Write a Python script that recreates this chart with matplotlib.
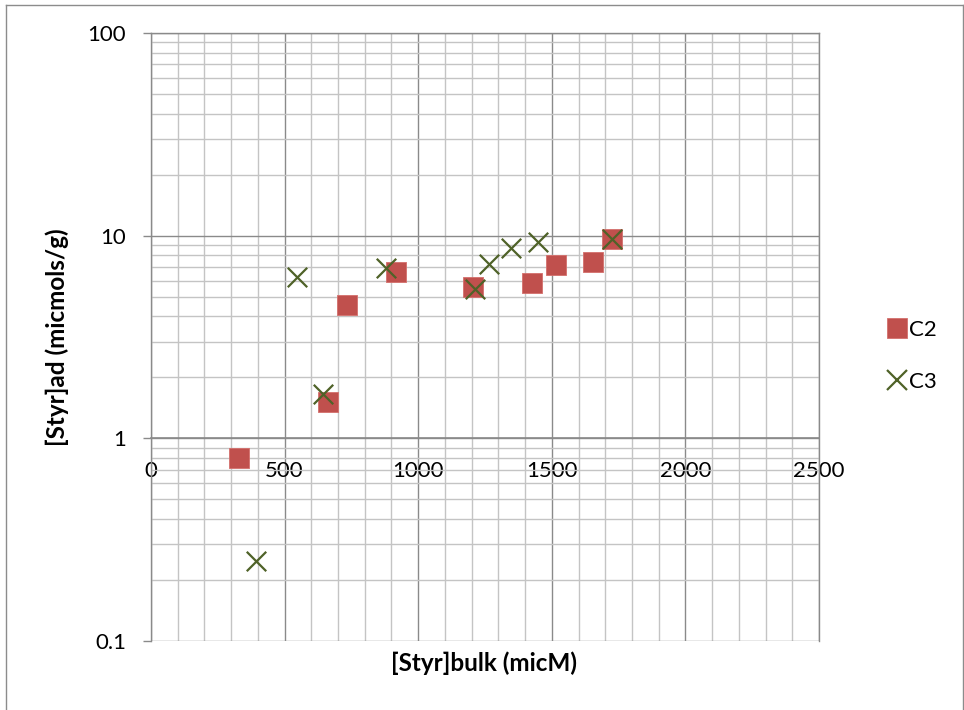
import matplotlib
matplotlib.use("Agg")
import matplotlib.pyplot as plt
from matplotlib.lines import Line2D
from matplotlib.ticker import FixedLocator, LogLocator, NullFormatter, FixedFormatter

plt.rcParams['font.family'] = ['Lato', 'DejaVu Sans']

# Adsorbed styrene vs. bulk styrene concentration
c2_bulk = [329, 663, 732, 916, 1204, 1425, 1515, 1653, 1725]
c2_ads = [0.80, 1.51, 4.57, 6.61, 5.56, 5.82, 7.19, 7.44, 9.59]

c3_bulk = [393, 545, 645, 880, 1214, 1264, 1347, 1450, 1725]
c3_ads = [0.247, 6.25, 1.65, 6.95, 5.48, 7.24, 8.69, 9.27, 9.66]

x_ticks = [0, 500, 1000, 1500, 2000, 2500]
y_ticks = [0.1, 1, 10, 100]
y_tick_labels = ['0.1', '1', '10', '100']

W, H = 964, 710
fig = plt.figure(figsize=(W / 100, H / 100), dpi=100)
ax = fig.add_axes([151 / W, 1 - 641 / H, (819 - 151) / W, (641 - 33) / H])

major_c = '#8a8a8a'
minor_c = '#c4c4c4'

ax.set_yscale('log')
ax.set_xlim(0, 2500)
ax.set_ylim(0.1, 100)

ax.xaxis.set_major_locator(FixedLocator(x_ticks))
ax.xaxis.set_minor_locator(FixedLocator(list(range(0, 2501, 100))))
ax.yaxis.set_major_locator(FixedLocator(y_ticks))
ax.yaxis.set_major_formatter(FixedFormatter(y_tick_labels))
ax.yaxis.set_minor_locator(LogLocator(base=10, subs=range(2, 10)))
ax.yaxis.set_minor_formatter(NullFormatter())

ax.grid(which='major', color=major_c, linewidth=1.0, zorder=0)
ax.grid(which='minor', color=minor_c, linewidth=1.0, zorder=0)
ax.set_axisbelow(True)

for s in ['top', 'right']:
    ax.spines[s].set_color(major_c)
    ax.spines[s].set_linewidth(1.0)
ax.spines['left'].set_color(major_c)
ax.spines['left'].set_linewidth(1.0)
ax.spines['bottom'].set_position(('data', 1))
ax.spines['bottom'].set_color(major_c)
ax.spines['bottom'].set_linewidth(1.2)

ax.tick_params(axis='y', which='major', length=6, width=1.0, color=major_c,
               labelsize=16, pad=12)
ax.tick_params(axis='y', which='minor', length=0)
ax.tick_params(axis='x', which='both', length=0, labelsize=16, pad=16)

ax.scatter(c2_bulk, c2_ads, marker='s', s=14 ** 2, color='#C0504D',
           edgecolors='#D46F6C', linewidths=0.6, zorder=3, label='C2')
ax.scatter(c3_bulk, c3_ads, marker='x', s=14 ** 2, color='#4F6228',
           linewidths=1.6, zorder=4, label='C3')

fig.text(484 / W, 1 - 663 / H, '[Styr]bulk (micM)', fontsize=17.5,
         fontweight='bold', ha='center', va='center')
fig.text(57 / W, 1 - 337 / H, '[Styr]ad (micmols/g)', fontsize=17.5,
         fontweight='bold', rotation=90, ha='center', va='center')

leg = fig.legend(handles=[
    Line2D([], [], marker='s', linestyle='none', markersize=14,
           color='#C0504D', markeredgecolor='#D46F6C', markeredgewidth=0.6,
           label='C2'),
    Line2D([], [], marker='x', linestyle='none', markersize=14,
           color='#4F6228', markeredgewidth=1.6, label='C3')],
    loc='center left', bbox_to_anchor=(877 / W, 1 - 356 / H),
    frameon=False, fontsize=16, handlelength=0.8, handletextpad=0.15,
    labelspacing=1.45, borderpad=0)

# chart area border
bc = '#8c8c8c'
fig.add_artist(Line2D([5.5 / W, 5.5 / W], [-0.01, 1 - 4.5 / H],
                      transform=fig.transFigure, color=bc, linewidth=1.0))
fig.add_artist(Line2D([5.5 / W, 962.5 / W], [1 - 4.5 / H, 1 - 4.5 / H],
                      transform=fig.transFigure, color=bc, linewidth=1.0))
fig.add_artist(Line2D([962.5 / W, 962.5 / W], [1 - 4.5 / H, -0.01],
                      transform=fig.transFigure, color=bc, linewidth=1.0))

fig.savefig('out.png', dpi=100)
